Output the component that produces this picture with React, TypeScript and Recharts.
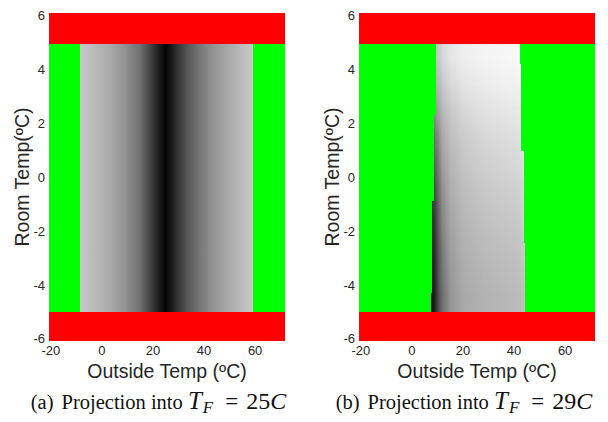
import { ComposedChart, ReferenceArea, XAxis, YAxis } from "recharts";

const SANS = "'Liberation Sans', Arial, Helvetica, sans-serif";
const SERIF = "'Liberation Serif', 'Times New Roman', serif";
const INK = "#262626";
const RED = "#ff0000";
const GREEN = "#00ff00";

const X_DOMAIN = [-20.7, 71.7];
const Y_DOMAIN = [-6.08, 6.08];
const X_TICKS = [-20, 0, 20, 40, 60];
const Y_TICKS = [-6, -4, -2, 0, 2, 4, 6];

// room temp band that is allowed (outside of it -> red)
const ROOM_HIGH = 4.92;
const ROOM_LOW = -5;

// (a) T_F = 25: feasible outside temps and the grey level across them
const A_RANGE = [-8.4, 59];
const A_STOP_X = [-8.4, -3, 3, 9, 15, 20.5, 23, 25, 27, 30, 34, 38.5, 44, 50, 55, 59];
const A_STOP_GRAY = [198, 185, 170, 145, 112, 50, 22, 5, 22, 55, 90, 120, 148, 170, 188, 200];

// (b) T_F = 29: ragged feasible edges, per room-temp segment
const B_SEG_TOP = [4.92, 4.2, 2.3, 0.95, -0.9, -2.45, -4.3];
const B_SEG_BOTTOM = [4.2, 2.3, 0.95, -0.9, -2.45, -4.3, -5];
const B_SEG_LEFT = [9.6, 9.6, 8.6, 8.6, 7.9, 7.9, 7.5];
const B_SEG_RIGHT = [42.3, 42.9, 42.9, 43.8, 43.8, 44.4, 44.4];

// (b) grey level profiles read at room temps B_ROW_Y, sampled at B_STOP_X
const B_RANGE = [7.5, 44.4];
const B_ROW_Y = [4.46, 3.5, 2.5, 1.5, 0.5, -0.5, -1.5, -2.5, -3.5, -4.5];
const B_STOP_X = [7.5, 9, 10.5, 12, 15, 20, 28, 36, 42, 44.4];
const B_GRAY = [
  [190, 195, 200, 215, 228, 238, 243, 246, 248, 250],
  [175, 180, 185, 200, 215, 228, 236, 240, 242, 246],
  [140, 150, 165, 185, 200, 215, 225, 230, 233, 240],
  [105, 115, 140, 170, 188, 203, 215, 220, 224, 232],
  [85, 95, 125, 158, 180, 196, 207, 212, 216, 225],
  [60, 75, 110, 145, 172, 188, 199, 205, 208, 218],
  [40, 60, 100, 135, 165, 182, 193, 198, 201, 212],
  [25, 50, 90, 125, 158, 176, 187, 192, 195, 205],
  [12, 40, 85, 118, 152, 172, 182, 187, 190, 198],
  [3, 35, 80, 112, 148, 168, 178, 183, 186, 192],
];

function grayHex(v: number) {
  const h = Math.round(v).toString(16).padStart(2, "0");
  return `#${h}${h}${h}`;
}

// vertical position inside the feasible band, 0 = top, 1 = bottom
const bandOffset = (y: number) => (ROOM_HIGH - y) / (ROOM_HIGH - ROOM_LOW);

function area(key: string, x1: number, x2: number, y1: number, y2: number, fill: string, mask?: string) {
  return (
    <ReferenceArea
      key={key}
      x1={x1}
      x2={x2}
      y1={y1}
      y2={y2}
      ifOverflow="visible"
      shape={(p: any) => (
        <rect
          x={p.x}
          y={p.y}
          width={p.width}
          height={p.height}
          fill={fill}
          mask={mask}
          shapeRendering="crispEdges"
        />
      )}
    />
  );
}

function redBands() {
  return [
    area("red-top", X_DOMAIN[0], X_DOMAIN[1], ROOM_HIGH, Y_DOMAIN[1], RED),
    area("red-bottom", X_DOMAIN[0], X_DOMAIN[1], Y_DOMAIN[0], ROOM_LOW, RED),
  ];
}

function Gradients() {
  return (
    <svg width={0} height={0} style={{ position: "absolute" }}>
      <defs>
        <linearGradient id="shadeA" x1="0" y1="0" x2="1" y2="0">
          {A_STOP_X.map((x, i) => (
            <stop
              key={i}
              offset={(x - A_RANGE[0]) / (A_RANGE[1] - A_RANGE[0])}
              stopColor={grayHex(A_STOP_GRAY[i])}
            />
          ))}
        </linearGradient>
        {B_GRAY.map((row, r) => (
          <linearGradient key={r} id={`shadeB${r}`} x1="0" y1="0" x2="1" y2="0">
            {B_STOP_X.map((x, i) => (
              <stop
                key={i}
                offset={(x - B_RANGE[0]) / (B_RANGE[1] - B_RANGE[0])}
                stopColor={grayHex(row[i])}
              />
            ))}
          </linearGradient>
        ))}
        {/* each profile fades in from the row below it to its own row */}
        {B_ROW_Y.slice(0, -1).map((y, r) => (
          <linearGradient key={`ramp${r}`} id={`rampB${r}`} x1="0" y1="0" x2="0" y2="1">
            <stop offset={bandOffset(y)} stopColor="#fff" />
            <stop offset={bandOffset(B_ROW_Y[r + 1])} stopColor="#000" />
          </linearGradient>
        ))}
        {B_ROW_Y.slice(0, -1).map((_, r) => (
          <mask
            key={`mask${r}`}
            id={`maskB${r}`}
            maskUnits="objectBoundingBox"
            maskContentUnits="objectBoundingBox"
            x="0"
            y="0"
            width="1"
            height="1"
          >
            <rect x="0" y="0" width="1" height="1" fill={`url(#rampB${r})`} />
          </mask>
        ))}
      </defs>
    </svg>
  );
}

function Panel({ left, width, right, children }: { left: number; width: number; right: number; children: any }) {
  return (
    <div style={{ position: "absolute", left, top: 0 }}>
      <ComposedChart width={width} height={390} data={[]} margin={{ top: 13, right, bottom: 0, left: 0 }}>
        <XAxis
          type="number"
          dataKey="x"
          domain={X_DOMAIN}
          ticks={X_TICKS}
          allowDataOverflow
          interval={0}
          height={49}
          tickLine={false}
          axisLine={false}
          tickSize={4}
          tickMargin={1}
          tick={{ fill: INK, fontSize: 13, fontFamily: SANS }}
          label={{
            value: "Outside Temp (ºC)",
            position: "insideBottom",
            offset: 12,
            fill: INK,
            fontSize: 19.5,
            fontFamily: SANS,
          }}
        />
        <YAxis
          type="number"
          dataKey="y"
          domain={Y_DOMAIN}
          ticks={Y_TICKS}
          allowDataOverflow
          interval={0}
          width={49}
          tickLine={false}
          axisLine={false}
          tickSize={4}
          tickMargin={0}
          tick={{ fill: INK, fontSize: 13, fontFamily: SANS }}
          label={{
            value: "Room Temp(ºC)",
            angle: -90,
            position: "center",
            dx: -2,
            fill: INK,
            fontSize: 19.5,
            fontFamily: SANS,
          }}
        />
        {children}
      </ComposedChart>
    </div>
  );
}

function Caption({ center, tag, temp }: { center: number; tag: string; temp: string }) {
  return (
    <div
      style={{
        position: "absolute",
        left: center - 200,
        width: 400,
        top: 391,
        textAlign: "center",
        fontFamily: SERIF,
        fontSize: 20.5,
        lineHeight: "20px",
        color: "#111",
        whiteSpace: "nowrap",
      }}
    >
      {tag}
      <span style={{ marginLeft: 8 }}>Projection into </span>
      <i style={{ fontSize: 25 }}>T</i>
      <sub style={{ fontSize: 17, fontStyle: "italic", verticalAlign: "-4px", margin: "0 3px 0 1px" }}>F</sub>
      <span style={{ fontSize: 23, margin: "0 8px 0 9px" }}>=</span>
      <span style={{ fontSize: 24 }}>
        {temp}
        <i>C</i>
      </span>
    </div>
  );
}

export default function App() {
  const panelA = [
    area("green-a", X_DOMAIN[0], X_DOMAIN[1], ROOM_LOW, ROOM_HIGH, GREEN),
    area("shade-a", A_RANGE[0], A_RANGE[1], ROOM_LOW, ROOM_HIGH, "url(#shadeA)"),
    ...redBands(),
  ];

  const last = B_ROW_Y.length - 1;
  const panelB = [
    area("green-b", X_DOMAIN[0], X_DOMAIN[1], ROOM_LOW, ROOM_HIGH, GREEN),
    area("shade-b-base", B_RANGE[0], B_RANGE[1], ROOM_LOW, ROOM_HIGH, `url(#shadeB${last})`),
    ...B_ROW_Y.slice(0, -1)
      .map((_, r) =>
        area(`shade-b${r}`, B_RANGE[0], B_RANGE[1], ROOM_LOW, ROOM_HIGH, `url(#shadeB${r})`, `url(#maskB${r})`)
      )
      .reverse(),
    ...B_SEG_TOP.flatMap((top, s) => [
      area(`gl${s}`, X_DOMAIN[0], B_SEG_LEFT[s], B_SEG_BOTTOM[s], top, GREEN),
      area(`gr${s}`, B_SEG_RIGHT[s], X_DOMAIN[1], B_SEG_BOTTOM[s], top, GREEN),
    ]),
    ...redBands(),
  ];

  return (
    <div style={{ position: "absolute", left: 0, top: 0, width: 608, height: 422, background: "#fff" }}>
      <Gradients />
      <Panel left={0} width={300} right={15}>
        {panelA}
      </Panel>
      <Panel left={310} width={298} right={13}>
        {panelB}
      </Panel>
      <Caption center={158.5} tag="(a)" temp="25" />
      <Caption center={464} tag="(b)" temp="29" />
    </div>
  );
}
